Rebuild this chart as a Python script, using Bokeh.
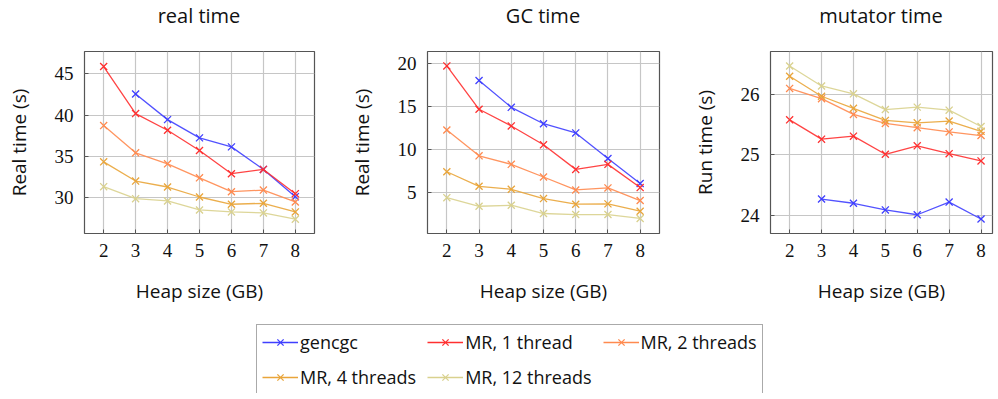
from bokeh.plotting import figure
from bokeh.layouts import column, row
from bokeh.models import Range1d, Legend, LegendItem, FixedTicker, Div
from bokeh.embed import file_html
from bokeh.resources import INLINE

# ---------------- data ----------------
heap_gb = [2, 3, 4, 5, 6, 7, 8]          # MR series
heap_gb_gencgc = [3, 4, 5, 6, 7, 8]      # gencgc series starts at 3 GB

series_names = ["gencgc", "MR, 1 thread", "MR, 2 threads", "MR, 4 threads", "MR, 12 threads"]
series_colors = ["#3f3fff", "#ff3030", "#ff8a4f", "#e9a53a", "#d9d18e"]

real_gencgc = [42.55, 39.45, 37.24, 36.15, 33.42, 30.12]
real_mr1 = [45.88, 40.18, 38.16, 35.71, 32.90, 33.42, 30.48]
real_mr2 = [38.73, 35.43, 34.10, 32.40, 30.72, 30.92, 29.48]
real_mr4 = [34.34, 32.01, 31.29, 30.08, 29.20, 29.32, 28.27]
real_mr12 = [31.33, 29.88, 29.60, 28.51, 28.27, 28.15, 27.39]

gc_gencgc = [18.06, 14.92, 13.00, 11.92, 8.92, 6.00]
gc_mr1 = [19.77, 14.69, 12.74, 10.53, 7.65, 8.24, 5.52]
gc_mr2 = [12.27, 9.24, 8.24, 6.76, 5.24, 5.48, 4.00]
gc_mr4 = [7.37, 5.67, 5.32, 4.23, 3.57, 3.61, 2.75]
gc_mr12 = [4.34, 3.33, 3.45, 2.48, 2.36, 2.36, 1.90]

mut_gencgc = [24.27, 24.20, 24.09, 24.01, 24.22, 23.94]
mut_mr1 = [25.58, 25.26, 25.31, 25.01, 25.15, 25.02, 24.90]
mut_mr2 = [26.10, 25.93, 25.67, 25.52, 25.45, 25.38, 25.32]
mut_mr4 = [26.30, 25.97, 25.77, 25.57, 25.53, 25.56, 25.39]
mut_mr12 = [26.47, 26.14, 26.01, 25.75, 25.79, 25.74, 25.47]

real_yticks = [30, 35, 40, 45]
gc_yticks = [5, 10, 15, 20]
mut_yticks = [24, 25, 26]

SANS = "Open Sans"
SERIF = "Liberation Serif"
FRAME = "#555555"
GRID = "#c6c6c6"
TITLE_H = 29


def panel(title, ylabel, series, yticks, y_range, x_end, mb_left, mb_right, fw):
    p = figure(frame_width=fw, frame_height=182, toolbar_location=None,
               output_backend="svg", x_range=Range1d(1.4, x_end),
               y_range=Range1d(*y_range), min_border_left=mb_left,
               min_border_right=mb_right, min_border_top=22, min_border_bottom=70)
    xax = p.xaxis[0]
    yax = p.yaxis[0]
    p.outline_line_color = FRAME
    p.outline_line_width = 1.2
    p.outline_line_alpha = 1.0

    for ax, ticks in ((xax, heap_gb), (yax, yticks)):
        ax.ticker = FixedTicker(ticks=ticks)
        ax.axis_line_color = None
        ax.major_tick_in = 4
        ax.major_tick_out = 0
        ax.major_tick_line_color = FRAME
        ax.minor_tick_line_color = None
        ax.major_label_text_font = SERIF
        ax.major_label_text_font_size = "19px"
        ax.major_label_text_color = "#111111"
        ax.axis_label_text_font = SANS
        ax.axis_label_text_font_size = "19px"
        ax.axis_label_text_font_style = "normal"
        ax.axis_label_text_color = "#111111"
    xax.axis_label = "Heap size (GB)"
    xax.major_label_standoff = 10
    xax.axis_label_standoff = 18
    yax.axis_label = ylabel
    yax.major_label_standoff = 11
    yax.axis_label_standoff = 20

    p.xgrid.ticker = FixedTicker(ticks=heap_gb)
    p.ygrid.ticker = FixedTicker(ticks=yticks)
    p.grid.grid_line_color = GRID
    p.grid.grid_line_width = 1.2

    for (xs, ys), c in zip(series, series_colors):
        p.line(xs, ys, line_color=c, line_width=1.3, line_alpha=0.9)
        p.scatter(xs, ys, marker="x", size=10, line_color=c, line_width=1.3)

    # title as an HTML block centred over the frame
    total_w = mb_left + fw + mb_right
    shift = mb_left - mb_right
    head = Div(text=(f'<div style="margin-left:{shift}px;width:{total_w - shift}px;'
                     f'text-align:center;padding-top:3px;font-family:\'{SANS}\';'
                     f'font-size:20px;line-height:26px;color:#111111;">{title}</div>'),
               width=total_w, height=TITLE_H, margin=0)
    return column(head, p, spacing=0)


def sets(g, m1, m2, m4, m12):
    return [(heap_gb_gencgc, g), (heap_gb, m1), (heap_gb, m2), (heap_gb, m4), (heap_gb, m12)]


c1 = panel("real time", "Real time (s)", sets(real_gencgc, real_mr1, real_mr2, real_mr4, real_mr12),
           real_yticks, (25.66, 47.70), 8.6, 84, 20, 230)
c2 = panel("GC time", "Real time (s)", sets(gc_gencgc, gc_mr1, gc_mr2, gc_mr4, gc_mr12),
           gc_yticks, (0.14, 21.46), 8.6, 93, 20, 232)
c3 = panel("mutator time", "Run time (s)", sets(mut_gencgc, mut_mr1, mut_mr2, mut_mr4, mut_mr12),
           mut_yticks, (23.70, 26.71), 1.4 + 222 / 31.9, 91, 4, 222)

# legend strip (its renderers hold the series but lie outside its ranges)
pl = figure(width=990, height=87, toolbar_location=None, output_backend="svg",
            x_range=Range1d(0, 1), y_range=Range1d(0, 1), min_border=0)
pl.axis.visible = False
pl.grid.visible = False
pl.outline_line_color = None
items = []
for name, c, (xs, ys) in zip(series_names, series_colors,
                             sets(real_gencgc, real_mr1, real_mr2, real_mr4, real_mr12)):
    lr = pl.line(xs, ys, line_color=c, line_width=1.3)
    sr = pl.scatter(xs, ys, marker="x", size=8, line_color=c, line_width=1.3)
    items.append(LegendItem(label=name, renderers=[lr, sr]))
leg = Legend(items=items, location=(256, -2), orientation="horizontal", ncols=3,
             glyph_width=36, glyph_height=22, label_height=22, label_width=110,
             label_standoff=2, spacing=11, padding=5, margin=0,
             border_line_color=FRAME, border_line_width=1.2,
             label_text_font=SANS, label_text_font_size="18px", label_text_color="#111111")
pl.add_layout(leg)

layout = column(row(c1, c2, c3, spacing=0), pl, spacing=0)
open("out.html", "w").write(file_html(layout, INLINE))
